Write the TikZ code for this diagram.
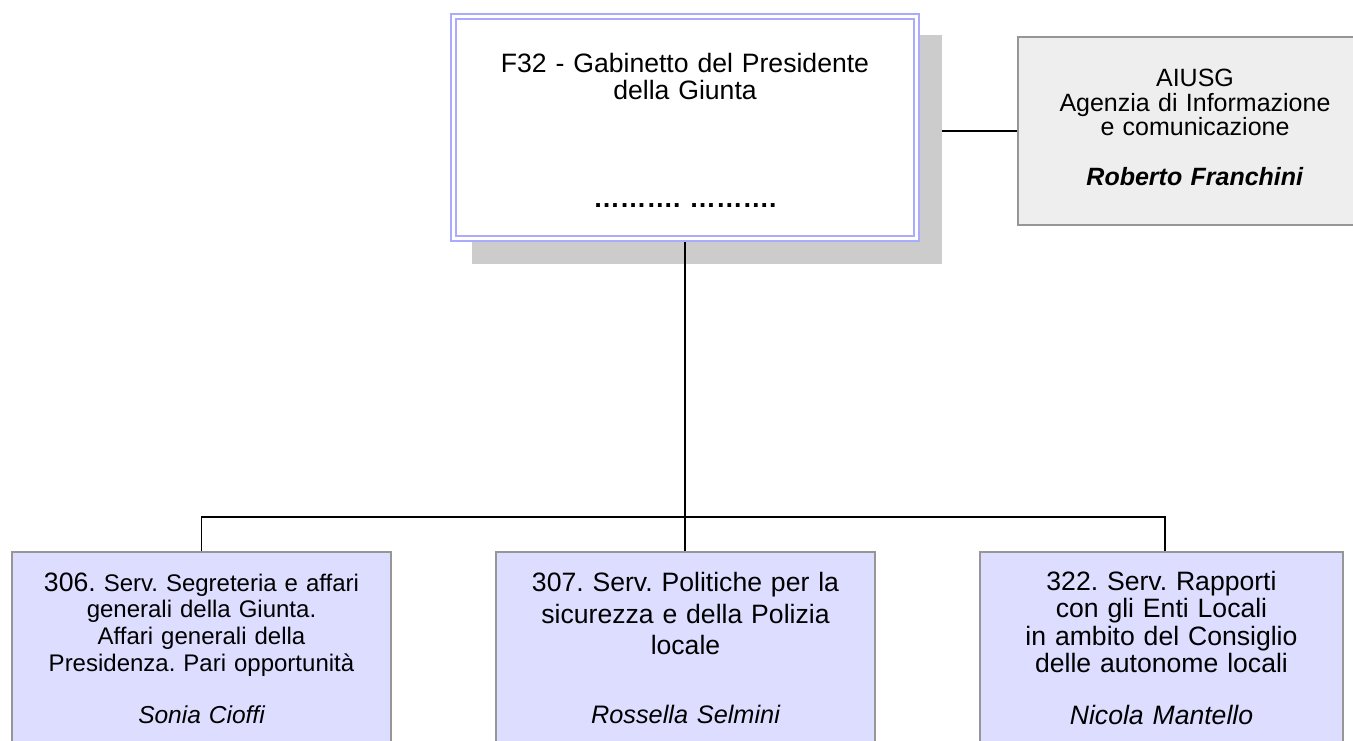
\documentclass[tikz,border=0pt]{standalone}
\usepackage{fontspec}
\setmainfont{Liberation Sans}
\usetikzlibrary{backgrounds}
\definecolor{headline}{RGB}{170,170,255}
\definecolor{servfill}{RGB}{221,221,255}
\definecolor{agfill}{RGB}{238,238,238}
\definecolor{boxline}{RGB}{150,150,150}
\definecolor{shadowgray}{RGB}{204,204,204}
\frenchspacing

\begin{document}
\begin{tikzpicture}[x=1pt,y=-1pt,line width=1.2pt, head/.style={rectangle,fill=white,draw=headline,line width=2pt,double=white,double distance=3pt,minimum width=463pt,minimum height=222pt,inner sep=0,outer sep=3.5pt,text width=440pt,align=center,font=\fontsize{26.6pt}{27pt}\selectfont}, shadowbox/.style={rectangle,fill=shadowgray,minimum width=470pt,minimum height=229pt,inner sep=0}, agency/.style={rectangle,fill=agfill,draw=boxline,minimum width=354pt,minimum height=188pt,inner sep=0,text width=330pt,align=center,font=\fontsize{25pt}{24.5pt}\selectfont}, serv/.style={rectangle,fill=servfill,draw=boxline,minimum width=379pt,minimum height=192pt,inner sep=0,text width=340pt,align=center}, link/.style={draw=black,line width=1.5pt}]
  \useasboundingbox (0,0) rectangle (1353,740);
  \node (gab) [head] at (685,127.5) {\rule{0pt}{24.5pt}F32 - Gabinetto del Presidente\\della Giunta\\[80.5pt]\textbf{………. ……….}};
  \node (aiusg) [agency] at (1195,131) {AIUSG\\Agenzia di Informazione\\e comunicazione\\[25.5pt]\textbf{\textit{Roberto Franchini}}\rule[-7pt]{0pt}{0pt}};
  \node (s306) [serv,font=\fontsize{24pt}{26.7pt}\selectfont] at (201.5,648) {{\fontsize{26.6pt}{26.7pt}\selectfont 306.} Serv. Segreteria e affari\\generali della Giunta.\\Affari generali della\\Presidenza. Pari opportunità\\[25.4pt]{\fontsize{24.5pt}{26.7pt}\selectfont\itshape Sonia Cioffi}};
  \node (s307) [serv,right of=s306,node distance=484pt,font=\fontsize{26.6pt}{31.5pt}\selectfont] {307. Serv. Politiche per la\\sicurezza e della Polizia\\locale\\[37.5pt]{\fontsize{25.3pt}{31.5pt}\selectfont\itshape Rossella Selmini}};
  \node (s322) [serv,minimum width=363pt,right of=s307,node distance=476pt,font=\fontsize{26.6pt}{27.3pt}\selectfont] {322. Serv. Rapporti\\con gli Enti Locali\\in ambito del Consiglio\\delle autonome locali\\[24.7pt]{\itshape Nicola Mantello}};
  \coordinate (bus) at (685,517);
  \draw[link] (gab.south) -- (bus);
  \draw[link] (s306.north) |- (bus) -| ([xshift=3.5pt]s322.north);
  \draw[link] (bus) -- (bus |- s307.north);
  \begin{scope}[on background layer]
    \draw[link] (aiusg.west) -- (aiusg.west -| gab.east);
    \node (gabsh) [shadowbox] at ([shift={(22,22)}]gab.center) {};
  \end{scope}
\end{tikzpicture}
\end{document}
